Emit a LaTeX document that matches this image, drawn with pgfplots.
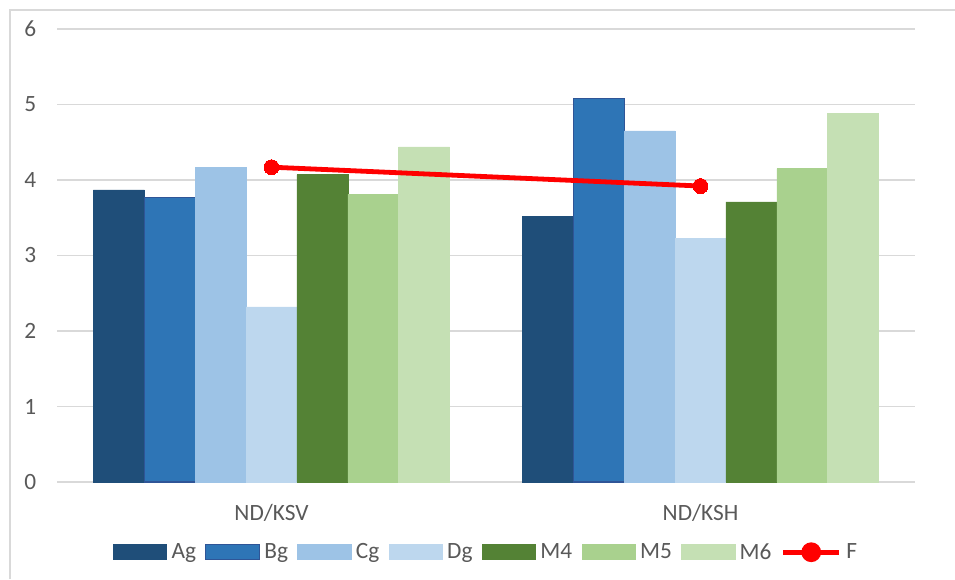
\documentclass[border=0pt]{standalone}
\usepackage{fontspec}
\setmainfont{Carlito}
\usepackage{pgfplots}
\pgfplotsset{compat=1.18}
\definecolor{cAg}{HTML}{1F4E79}
\definecolor{cBg}{HTML}{2E75B6}
\definecolor{cBgb}{HTML}{2F5597}
\definecolor{cCg}{HTML}{9DC3E6}
\definecolor{cDg}{HTML}{BDD7EE}
\definecolor{cM4}{HTML}{548235}
\definecolor{cM5}{HTML}{A9D18E}
\definecolor{cM6}{HTML}{C5E0B4}
\definecolor{grid}{HTML}{D9D9D9}
\definecolor{txt}{HTML}{595959}
\begin{document}
\begin{tikzpicture}
\path[use as bounding box] (0,0) rectangle (716.25pt,434.25pt);
\draw[grid, line width=0.8pt] (7.5pt,0) -- (7.5pt,426.75pt) -- (716.25pt,426.75pt);
\begin{axis}[
  at={(42.75pt,72.75pt)}, anchor=south west,
  scale only axis, width=643.5pt, height=339.75pt,
  xmin=-0.5, xmax=1.5, ymin=0, ymax=6,
  xtick={0,1}, xticklabels={ND/KSV,ND/KSH},
  ytick={0,1,2,3,4,5,6},
  xmajorgrids=false, ymajorgrids=true,
  major y grid style={grid, line width=0.8pt},
  major x grid style={draw=none},
  axis line style={draw=none},
  major tick length=0pt,
  xtick style={draw=none}, ytick style={draw=none},
  /pgf/number format/assume math mode=true,
  ticklabel style={font=\fontsize{17.5}{21}\selectfont, text=txt},
  yticklabel style={anchor=east, xshift=-12pt},
  xticklabel style={anchor=north, yshift=-13pt},
  legend columns=-1,
  legend style={draw=none, at={(0.5,-0.155)}, anchor=center,
    font=\fontsize{17.5}{21}\selectfont, text=txt,
    /tikz/every odd column/.append style={column sep=2pt},
    /tikz/every even column/.append style={column sep=5.5pt},
    nodes={inner sep=1.5pt}},
  legend image code/.code={\draw[#1] (0pt,-5.6pt) rectangle (40pt,5.6pt);},
]
\addplot[ybar, bar width=0.1186, bar shift=-0.3558, fill=cAg, draw=cAg] coordinates {(0,3.87) (1,3.52)};
\addlegendentry{Ag}
\addplot[ybar, bar width=0.1186, bar shift=-0.2372, fill=cBg, draw=cBgb, line width=0.8pt] coordinates {(0,3.77) (1,5.08)};
\addlegendentry{Bg}
\addplot[ybar, bar width=0.1186, bar shift=-0.1186, fill=cCg, draw=cCg] coordinates {(0,4.17) (1,4.65)};
\addlegendentry{Cg}
\addplot[ybar, bar width=0.1186, bar shift=0, fill=cDg, draw=cDg] coordinates {(0,2.32) (1,3.23)};
\addlegendentry{Dg}
\addplot[ybar, bar width=0.1186, bar shift=0.1186, fill=cM4, draw=cM4] coordinates {(0,4.07) (1,3.71)};
\addlegendentry{M4}
\addplot[ybar, bar width=0.1186, bar shift=0.2372, fill=cM5, draw=cM5] coordinates {(0,3.81) (1,4.15)};
\addlegendentry{M5}
\addplot[ybar, bar width=0.1186, bar shift=0.3558, fill=cM6, draw=cM6] coordinates {(0,4.44) (1,4.88)};
\addlegendentry{M6}
\addplot[red, line width=3.6pt, mark=*, mark size=5.6pt, mark options={fill=red, draw=red, line width=0pt},
  legend image code/.code={\draw[red, line width=3.6pt] (0pt,0pt) -- (42pt,0pt); \fill[red] (21pt,0pt) circle (5.6pt);}]
  coordinates {(0,4.17) (1,3.92)};
\addlegendentry{F}
\end{axis}
\end{tikzpicture}
\end{document}
